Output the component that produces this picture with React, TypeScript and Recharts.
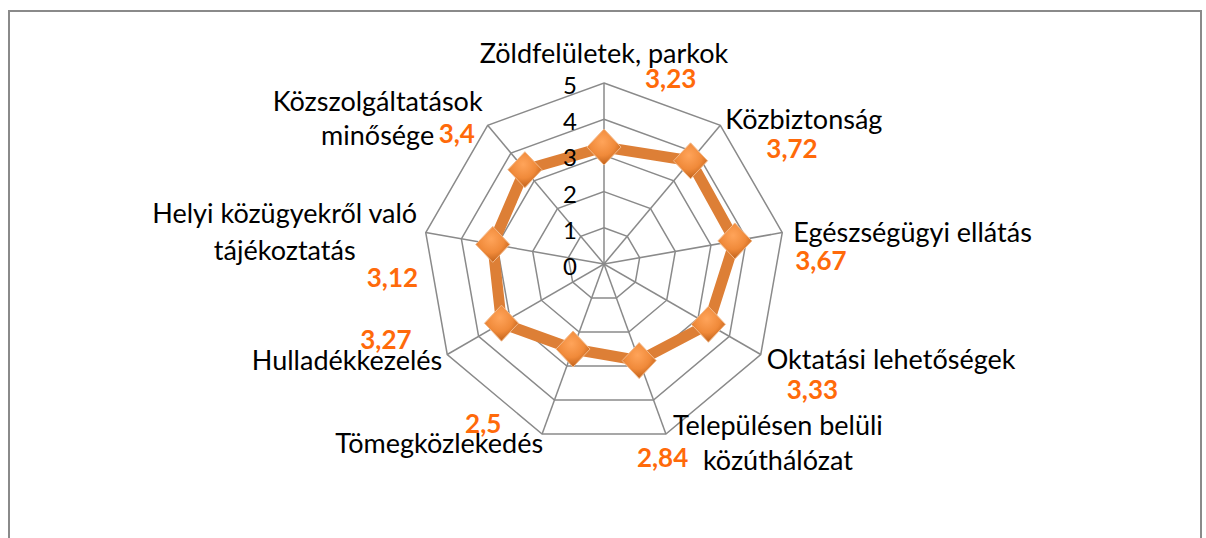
import { RadarChart, Radar, PolarGrid, PolarAngleAxis, PolarRadiusAxis } from 'recharts';

const categories = [
  'Zöldfelületek, parkok',
  'Közbiztonság',
  'Egészségügyi ellátás',
  'Oktatási lehetőségek',
  'Településen belüli\nközúthálózat',
  'Tömegközlekedés',
  'Hulladékkezelés',
  'Helyi közügyekről való\ntájékoztatás',
  'Közszolgáltatások\nminősége',
];
const scores = [3.23, 3.72, 3.67, 3.33, 2.84, 2.5, 3.27, 3.12, 3.4];
const radiusTicks = [0, 1, 2, 3, 4, 5];

const data = categories.map((c, i) => ({ category: c, score: scores[i] }));

// chart geometry (svg coords)
const CX = 594;
const CY = 252;
const R = 181;
const FONT = 'Lato, "Noto Sans", sans-serif';

// label placement relative to each spoke's outer vertex
const labelLayout = [
  { nx: 0, ny: -20, anchor: 'middle', vx: 41, vy: 5, lh: 0 },
  { nx: 5, ny: 4, anchor: 'start', vx: 46, vy: 33, lh: 0 },
  { nx: 11, ny: 9, anchor: 'start', vx: 13, vy: 37, lh: 0 },
  { nx: 6, ny: 14, anchor: 'start', vx: 26, vy: 44, lh: 0 },
  { nx: 112, ny: 1, anchor: 'middle', vx: -29, vy: 33, lh: 35 },
  { nx: 1, ny: 19, anchor: 'end', vx: -77, vy: -1, lh: 0 },
  { nx: -5, ny: 15, anchor: 'end', vx: -87, vy: -6, lh: 0 },
  { nx: -141, ny: -10, anchor: 'middle', vx: -59, vy: 54, lh: 37 },
  { nx: -110, ny: -14, anchor: 'middle', vx: -49, vy: 18, lh: 34 },
];

function AngleTick(props: any) {
  const i = categories.indexOf(props.payload.value);
  if (i < 0) return null;
  const a = ((90 - (360 / categories.length) * i) * Math.PI) / 180;
  const vx = CX + R * Math.cos(a);
  const vy = CY - R * Math.sin(a);
  const l = labelLayout[i];
  const lines = categories[i].split('\n');
  return (
    <g>
      {lines.map((t, k) => (
        <text key={k} x={vx + l.nx} y={vy + l.ny + k * l.lh} textAnchor={l.anchor} fontFamily={FONT} fontSize={27} fill="#000">
          {t}
        </text>
      ))}
      <text x={vx + l.vx} y={vy + l.vy} textAnchor="start" fontFamily={FONT} fontSize={26} fontWeight={700} fill="#FF6A0A">
        {String(scores[i]).replace('.', ',')}
      </text>
    </g>
  );
}

function RadiusTick(props: any) {
  return (
    <text x={CX - 27} y={props.y + 11} textAnchor="end" fontFamily={FONT} fontSize={24} fill="#000">
      {props.payload.value}
    </text>
  );
}

function Diamond(props: any) {
  const { cx, cy } = props;
  if (cx == null || cy == null) return null;
  const w = 17;
  const h = 18;
  return (
    <path
      key={`d-${props.index}`}
      d={`M${cx},${cy - h} L${cx + w},${cy} L${cx},${cy + h} L${cx - w},${cy} Z`}
      fill="url(#diamondFill)"
      stroke="#F2B98A"
      strokeWidth={1}
    />
  );
}

export default function App() {
  return (
    <div
      style={{
        position: 'fixed',
        left: 8,
        top: 10,
        width: 1194,
        height: 540,
        boxSizing: 'border-box',
        border: '2px solid #8a8a8a',
        borderBottom: 'none',
        background: '#fff',
        overflow: 'hidden',
      }}
    >
      <RadarChart width={1190} height={520} data={data} cx={CX} cy={CY} outerRadius={R} startAngle={90} endAngle={-270}>
        <defs>
          <radialGradient id="diamondFill" cx="45%" cy="35%" r="70%">
            <stop offset="0%" stopColor="#FFA45A" />
            <stop offset="55%" stopColor="#F08A3A" />
            <stop offset="100%" stopColor="#B85A14" />
          </radialGradient>
        </defs>
        <PolarGrid gridType="polygon" stroke="#8a8a8a" strokeWidth={1.5} />
        <PolarAngleAxis dataKey="category" tick={AngleTick} tickLine={false} axisLine={false} />
        <Radar
          dataKey="score"
          stroke="#DD7F36"
          strokeWidth={11}
          fill="none"
          fillOpacity={0}
          dot={Diamond}
          isAnimationActive={false}
        />
        <PolarRadiusAxis angle={90} domain={[0, 5]} ticks={radiusTicks} tickCount={6} axisLine={false} tickLine={false} tick={RadiusTick} />
      </RadarChart>
    </div>
  );
}
